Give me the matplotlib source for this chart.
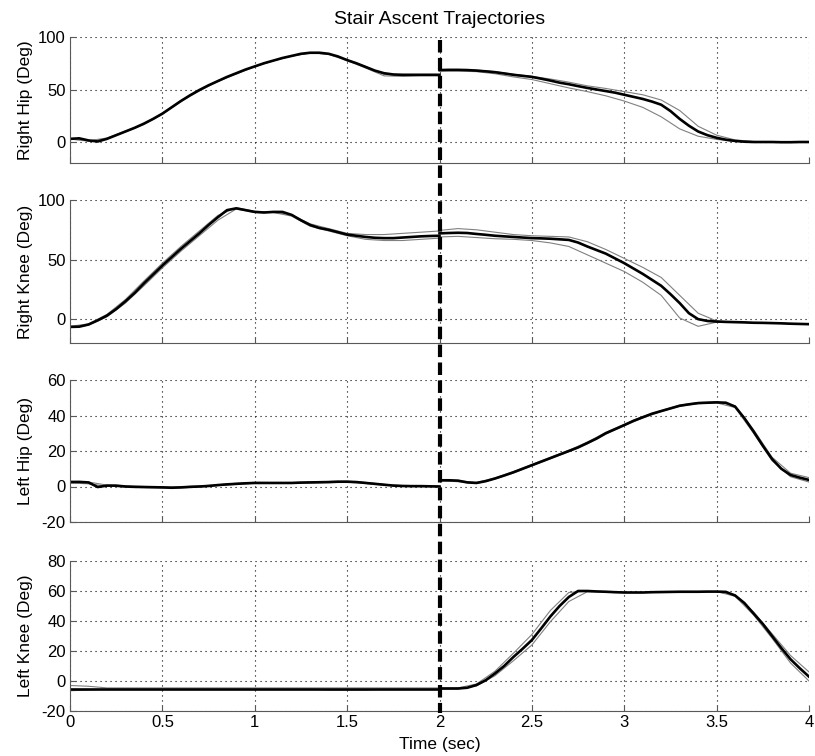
import matplotlib
matplotlib.use("Agg")
import numpy as np
import matplotlib.pyplot as plt
import matplotlib.transforms as mtransforms
from matplotlib.lines import Line2D

plt.rcParams['font.family'] = ['Liberation Sans', 'DejaVu Sans']
plt.rcParams['axes.unicode_minus'] = False

# ======== Data ========
# two gait phases, joined at t = 2 s (dashed line)
# mean curves sampled every 0.05 s, single trials every 0.1 s
t_mean_a = np.round(np.arange(41) * 0.05, 2)
t_mean_b = np.round(2.0 + np.arange(41) * 0.05, 2)
t_trial_a = np.round(np.arange(21) * 0.1, 2)
t_trial_b = np.round(2.0 + np.arange(21) * 0.1, 2)

# Right hip
rhip_mean_a = [3, 3.5, 1.5, 0.5, 3, 6.5, 10, 13.5, 17.5, 22, 27, 33, 39, 44.5, 49.5, 54, 58, 62, 65.5, 69, 72,
               75, 77.5, 80, 82, 84, 85, 85, 84, 81.5, 78, 75, 71.5, 68, 65.5, 64.3, 64, 64, 64, 64, 64]
rhip_mean_b = [68.5, 68.7, 68.7, 68.5, 68, 67.3, 66.5, 65.3, 64, 63, 62, 60.3, 58.5, 56.5, 55, 53.2, 51.5, 50, 48.5, 47, 45,
               43, 41, 38.5, 35.5, 29.5, 22, 15.5, 10, 6.5, 4, 2.2, 1, 0.3, 0, 0, 0, -0.2, -0.2, 0, 0]
rhip_hi_a = [3, 1.2, 3.8, 10.3, 17.4, 27.5, 39.5, 49.5, 58.3, 65.2, 72, 77.5, 82, 85, 83.5, 77.5, 70.5, 63, 62.5, 63, 63]
rhip_lo_a = [2.8, 0.8, 3.2, 9.7, 16.6, 26.5, 38.5, 48.6, 57.6, 64.7, 71.7, 77.3, 81.8, 84.7, 84, 78.3, 72, 64.5, 63.2, 63.5, 63.5]
rhip_hi_b = [69, 69, 68.5, 67, 64.5, 62.5, 60, 57, 53.5, 51, 48, 45, 40, 30, 15, 6.5, 2, 0.5, 0, 0, 0]
rhip_lo_b = [67.5, 67.5, 67, 65, 62, 59.5, 55.5, 51.5, 48, 44, 39, 33, 24, 12.5, 5.5, 2.5, 0.5, 0, 0, 0, -0.3]

# Right knee
rknee_mean_a = [-6.5, -6.3, -4.5, -1, 3, 8.5, 15, 22, 30, 37.5, 45, 52, 59, 65.5, 72, 79, 85.5, 91.5, 93, 91.5, 90,
                89.5, 90, 90, 87.5, 83, 79, 76.5, 75, 73, 71, 70, 69, 68.3, 68, 68, 68.5, 69, 69.5, 69.8, 70]
rknee_mean_b = [72, 72.3, 72.5, 72.3, 71.5, 70.8, 70, 69.5, 69, 68.5, 68, 67.8, 67.5, 67, 66.5, 64.3, 61, 58, 55, 51, 47,
                42.5, 38, 33, 28, 21, 13.5, 5, 0, -1.5, -2, -2.3, -2.5, -2.7, -3, -3.1, -3.3, -3.5, -3.8, -4, -4.2]
rknee_hi_a = [-6, -4, 4, 16.5, 32, 47, 61, 74, 87, 93.5, 90.5, 90, 87.5, 80, 76, 72, 71, 71, 72, 73, 74]
rknee_lo_a = [-7, -5, 2, 13.5, 28, 43, 57, 70, 83, 92.5, 89.5, 89.5, 86.5, 78, 74, 70, 67, 66, 66, 67, 68]
rknee_hi_b = [74.5, 76, 75, 73, 71, 70, 69.5, 69, 65, 58.5, 51, 43.5, 35, 20, 5, -1.5, -2.5, -3, -3.3, -3.8, -4.2]
rknee_lo_b = [69, 69.5, 68.5, 67.5, 67, 66, 64, 61, 54, 47, 40, 31, 20, 1, -6, -2.5, -2.5, -3, -3.3, -3.8, -4.2]

# Left hip
lhip_mean_a = [2.5, 2.6, 2.3, -0.3, 0.5, 0.5, 0, -0.2, -0.3, -0.4, -0.5, -0.7, -0.5, -0.2, 0, 0.3, 0.8, 1.2, 1.5, 1.8, 2,
               2, 2, 2, 2, 2.2, 2.3, 2.4, 2.5, 2.7, 2.7, 2.5, 2, 1.5, 1, 0.5, 0.3, 0.2, 0.2, 0.1, 0]
lhip_mean_b = [3.5, 3.5, 3.3, 2.3, 2, 3, 4.5, 6.2, 8, 10, 12, 14, 16, 18, 20, 22, 24.5, 27, 30, 32.3, 34.6,
               37, 39, 41, 42.5, 44, 45.5, 46.3, 47, 47.2, 47.4, 47.2, 45, 38.5, 31, 23, 15.5, 10, 6.5, 5, 3.7]
lhip_hi_a = [3, 2.5, 0.8, 0.3, 0, -0.2, -0.2, 0.3, 1, 1.8, 2.3, 2.2, 2.2, 2.5, 2.8, 3, 2.3, 1.2, 0.5, 0.3, 0.1]
lhip_lo_a = [2, 1.5, 0.2, -0.3, -0.6, -0.8, -0.8, -0.3, 0.5, 1.2, 1.8, 1.8, 1.8, 2, 2.2, 2.4, 1.7, 0.8, 0.1, 0, -0.1]
lhip_hi_b = [3.8, 3.3, 2.3, 4.8, 8.4, 12.4, 16.4, 20.4, 25, 30.5, 35, 39.4, 42.8, 45.8, 47.3, 47.7, 45.5, 32, 16.5, 7.5, 5]
lhip_lo_b = [3.2, 2.7, 1.7, 4.2, 7.6, 11.6, 15.6, 19.6, 24, 29.5, 34.2, 38.6, 42.2, 45.2, 46.7, 47.1, 44.5, 30, 14.5, 5.5, 2.5]

# Left knee
lknee_mean_a = [-5] * 41
lknee_mean_b = [-5, -5, -5, -4.5, -2.7, 0.5, 5, 10, 16, 21.5, 27.3, 35, 43, 50, 56, 60, 60, 59.7, 59.5, 59.2, 59,
                59, 59, 59.2, 59.3, 59.4, 59.5, 59.5, 59.5, 59.6, 59.6, 59.4, 57, 52, 45, 38, 30, 22, 14.5, 8.5, 2.9]
lknee_hi_a = [-3, -3.5, -4.6, -4.6, -4.6, -4.6, -4.6, -4.6, -4.6, -4.6, -4.6, -4.6, -4.6, -4.6, -4.6, -4.6, -4.6, -4.6, -4.6, -4.6, -4.6]
lknee_lo_a = [-6.5, -6, -5.4, -5.4, -5.4, -5.4, -5.4, -5.4, -5.4, -5.4, -5.4, -5.4, -5.4, -5.4, -6, -6, -6, -5.4, -5.4, -5.4, -5.4]
lknee_hi_b = [-4.6, -4.6, -2, 6.5, 18.5, 31, 47, 59, 60, 59.5, 59, 59, 59.3, 59.5, 59.5, 59.6, 57.5, 46, 31.5, 17, 6]
lknee_lo_b = [-5.4, -5.4, -3.2, 3.5, 13.5, 24, 39.5, 53, 59.5, 59.5, 59, 59, 59.3, 59.5, 59.5, 59.6, 56.5, 44, 28.5, 12, 0]

joints = [
    ("Right Hip (Deg)", (rhip_mean_a, rhip_mean_b), (rhip_hi_a, rhip_lo_a), (rhip_hi_b, rhip_lo_b), (-20, 100), [0, 50, 100]),
    ("Right Knee (Deg)", (rknee_mean_a, rknee_mean_b), (rknee_hi_a, rknee_lo_a), (rknee_hi_b, rknee_lo_b), (-20, 100), [0, 50, 100]),
    ("Left Hip (Deg)", (lhip_mean_a, lhip_mean_b), (lhip_hi_a, lhip_lo_a), (lhip_hi_b, lhip_lo_b), (-20, 60), [-20, 0, 20, 40, 60]),
    ("Left Knee (Deg)", (lknee_mean_a, lknee_mean_b), (lknee_hi_a, lknee_lo_a), (lknee_hi_b, lknee_lo_b), (-20, 80), [-20, 0, 20, 40, 60, 80]),
]

x_ticks = [0, 0.5, 1, 1.5, 2, 2.5, 3, 3.5, 4]
x_tick_labels = ["0", "0.5", "1", "1.5", "2", "2.5", "3", "3.5", "4"]
t_split = 2.0

# ======== Figure ========
W, H = 815, 756
fig = plt.figure(figsize=(W / 100, H / 100), dpi=100)

# panel boxes in pixels: (top, bottom)
caixas = [(37, 163), (200, 343), (380, 522), (561, 711)]
esq, dir_ = 70, 809

eixos = []
for (rotulo, medias, trials_a, trials_b, ylim, yticks), (topo, base) in zip(joints, caixas):
    ax = fig.add_axes([esq / W, 1 - base / H, (dir_ - esq) / W, (base - topo) / H])
    for tr in trials_a:
        ax.plot(t_trial_a, tr, color='0.5', lw=0.8)
    for tr in trials_b:
        ax.plot(t_trial_b, tr, color='0.5', lw=0.8)
    ax.plot(t_mean_a, medias[0], color='black', lw=1.9)
    ax.plot(t_mean_b, medias[1], color='black', lw=1.9)

    ax.set_xlim(0, 4)
    ax.set_ylim(*ylim)
    ax.set_yticks(yticks)
    ax.set_yticklabels([str(v) for v in yticks])
    ax.set_xticks(x_ticks)
    ax.grid(True, linestyle=(0, (1, 3.5)), color='black', lw=0.8)
    ax.set_axisbelow(True)
    for lado in ['top', 'right']:
        ax.spines[lado].set_visible(False)
    for lado in ['left', 'bottom']:
        ax.spines[lado].set_color('0.35')
    ax.tick_params(direction='in', length=4, color='0.35', labelsize=12, pad=3)
    ax.set_ylabel(rotulo, fontsize=12.5)
    ax.yaxis.set_label_coords(-0.05, 0.5)
    eixos.append(ax)

for ax in eixos[:-1]:
    ax.set_xticklabels([])
eixos[-1].set_xticklabels(x_tick_labels)
eixos[-1].set_xlabel("Time (sec)", fontsize=12.5, labelpad=5)

eixos[0].set_title("Stair Ascent Trajectories", fontsize=14, pad=9)

# dashed phase divider spanning all panels
trans = mtransforms.blended_transform_factory(eixos[-1].transData, fig.transFigure)
fig.add_artist(Line2D([t_split, t_split], [1 - 40 / H, 1 - 713 / H], transform=trans,
                      color='black', lw=3, linestyle=(0, (3, 1.3)), zorder=10))

fig.savefig("out.png", dpi=100)
